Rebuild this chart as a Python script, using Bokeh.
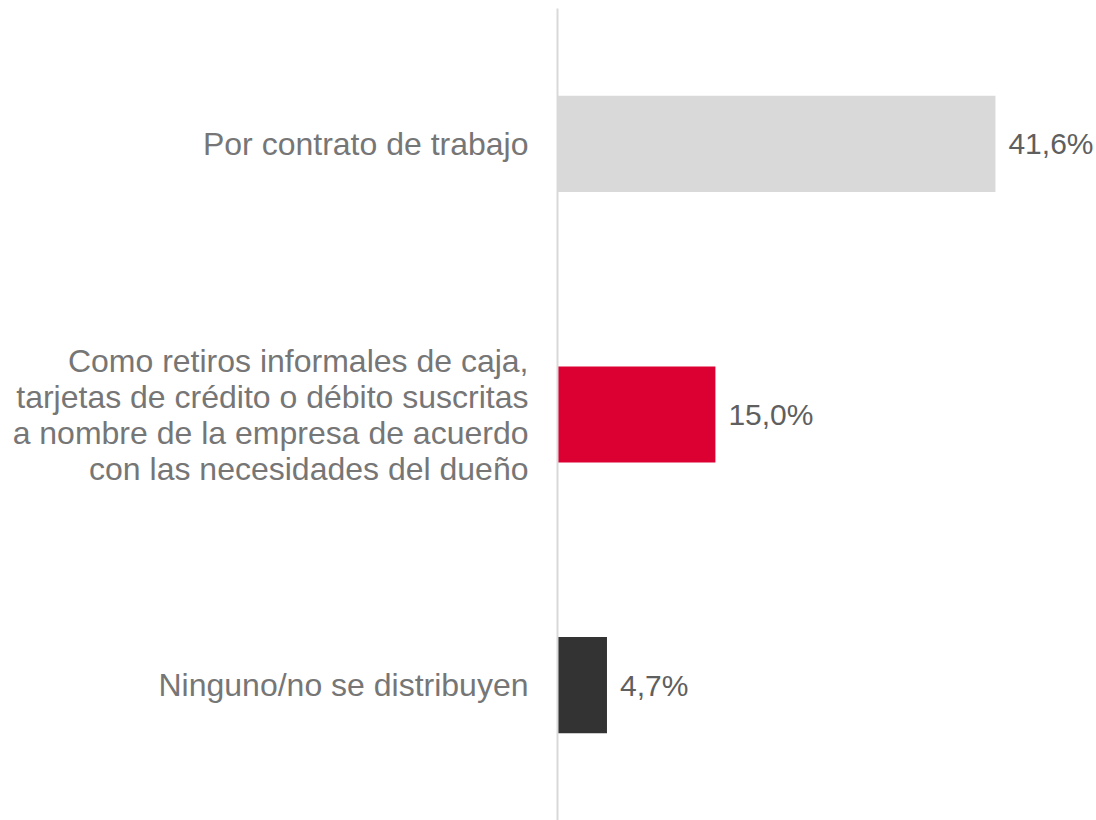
from bokeh.plotting import figure
from bokeh.models import ColumnDataSource, FactorRange, Range1d, LabelSet
from bokeh.core.properties import value
from bokeh.embed import file_html
from bokeh.resources import INLINE

categories = [
    "Por contrato de trabajo",
    "Como retiros informales de caja,\ntarjetas de crédito o débito suscritas\na nombre de la empresa de acuerdo\ncon las necesidades del dueño",
    "Ninguno/no se distribuyen",
]
values = [41.6, 15.0, 4.7]
value_labels = ["41,6%", "15,0%", "4,7%"]
colors = ["#d9d9d9", "#dc0032", "#333333"]

source = ColumnDataSource(dict(cat=categories, val=values, lab=value_labels, col=colors))

p = figure(
    width=1096, height=820,
    y_range=FactorRange(factors=list(reversed(categories)), range_padding=0),
    x_range=Range1d(0, 51.2),
    output_backend="svg", toolbar_location=None,
    min_border_left=557, min_border_right=0, min_border_top=8, min_border_bottom=0,
)
p.hbar(y="cat", right="val", left=0, height=0.355, fill_color="col", line_color=None, source=source)

labels = LabelSet(x="val", y="cat", text="lab", source=source, x_offset=13,
                  text_baseline="middle", text_align="left",
                  text_font=value("Liberation Sans"), text_font_size=value("30px"),
                  text_color=value("#5f5f5f"))
p.add_layout(labels)

p.xaxis.visible = False
p.xgrid.visible = False
p.ygrid.visible = False
p.outline_line_color = None
p.yaxis.axis_line_color = "#d9d9d9"
p.yaxis.axis_line_width = 2
p.yaxis.major_tick_line_color = None
p.yaxis.minor_tick_line_color = None
p.yaxis.major_label_standoff = 23
p.yaxis.major_label_text_font = "Liberation Sans"
p.yaxis.major_label_text_font_size = "32px"
p.yaxis.major_label_text_line_height = 1.0
p.yaxis.major_label_text_color = "#767676"

open("out.html", "w").write(file_html(p, INLINE))
